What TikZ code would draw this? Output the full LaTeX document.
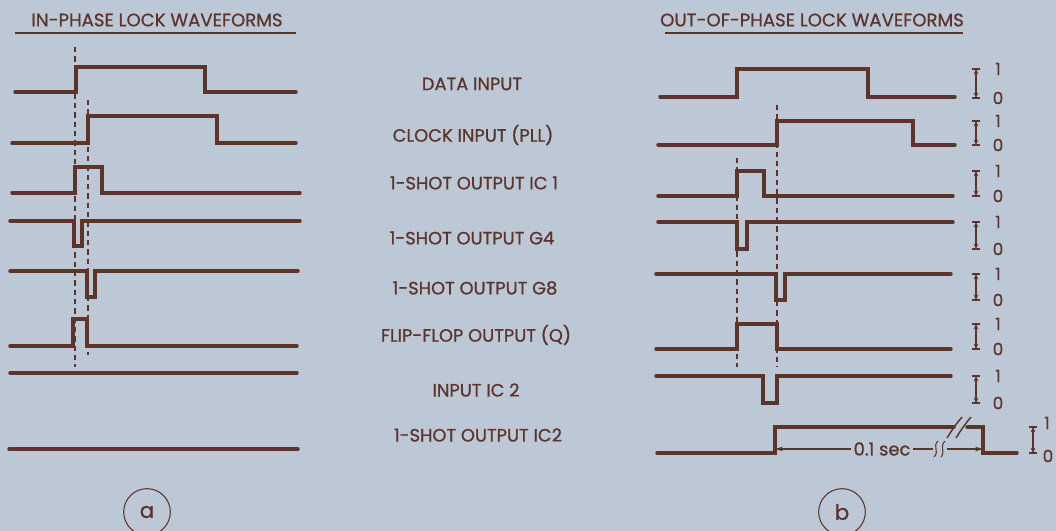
\documentclass[tikz,border=0pt]{standalone}
\usepackage{fontspec}
\setmainfont{Poppins}[FakeBold=0.8]
\usetikzlibrary{arrows.meta}
\definecolor{bg}{RGB}{188,200,214}
\definecolor{ink}{RGB}{92,52,42}
\begin{document}
\begin{tikzpicture}[x=0.75pt,y=-0.75pt,
  wave/.style={ink,line width=2.6pt,line join=miter,line cap=round},
  guide/.style={ink,line width=0.8pt,dash pattern=on 4pt off 3pt},
  lbl/.style={text=ink,font=\fontsize{13.4}{15}\selectfont,inner sep=0pt},
  ttl/.style={text=ink,font=\fontsize{13.6}{15}\selectfont,inner sep=0pt},
  rulebar/.style={ink,line width=1.5pt},
  span/.style={ink,line width=0.9pt,{Stealth[length=4pt,width=3.5pt]}-{Stealth[length=4pt,width=3.5pt]}},
  barline/.style={ink,line width=0.9pt},
  lvl/.style={text=ink,font=\fontsize{12.5}{14}\selectfont,inner sep=0pt},
  dimline/.style={ink,line width=0.8pt},
  tag/.style={circle,draw=ink,line width=0.8pt,minimum size=35pt,inner sep=0pt,text=ink,font=\fontsize{16}{18}\selectfont}]
\useasboundingbox (0,0) rectangle (1056,531);
\fill[bg] (0,0) rectangle (1056,531);

% titles
\node[ttl] (tA) at (157,20) {IN-PHASE LOCK WAVEFORMS};
\node[ttl] (tB) at (812,20) {OUT-OF-PHASE LOCK WAVEFORMS};
\draw[rulebar] (15,33) -- (296,33);
\draw[rulebar] (665,33) -- (963,33);

% centre labels
\node[lbl] (lData) at (472,84) {DATA INPUT};
\node[lbl] (lClock) at (473,135) {CLOCK INPUT (PLL)};
\node[lbl] (lIC1) at (474,183) {1-SHOT OUTPUT IC 1};
\node[lbl] (lG4) at (472,238) {1-SHOT OUTPUT G4};
\node[lbl] (lG8) at (475,288) {1-SHOT OUTPUT G8};
\node[lbl] (lQ) at (476,335) {FLIP-FLOP OUTPUT (Q)};
\node[lbl] (lIn2) at (476,390) {INPUT IC 2};
\node[lbl] (lOut2) at (478,435) {1-SHOT OUTPUT IC2};

% left guides
\draw[guide] (75,47) -- (75,367);
\draw[guide] (88,100) -- (88,355);
% left waveforms
\draw[wave] (15,92) -- (76,92) -- (76,67) -- (205,67) -- (205,92) -- (296,92);
\draw[wave] (12,143) -- (88,143) -- (88,116) -- (217,116) -- (217,143) -- (296,143);
\draw[wave] (12,193) -- (75,193) -- (75,167) -- (102,167) -- (102,193) -- (300,193);
\draw[wave] (10,221) -- (74,221) -- (74,246) -- (82,246) -- (82,221) -- (300,221);
\draw[wave] (10,271) -- (87,271) -- (87,297) -- (95,297) -- (95,271) -- (298,271);
\draw[wave] (10,346) -- (73,346) -- (73,319) -- (87,319) -- (87,346) -- (297,346);
\draw[wave] (10,373) -- (297,373);
\draw[wave] (9,449) -- (298,449);

% right guides
\draw[guide] (737,158) -- (737,367);
\draw[guide] (777,105) -- (777,367);
% right waveforms
\draw[wave] (660,97) -- (737,97) -- (737,69) -- (868,69) -- (868,97) -- (955,97);
\draw[wave] (658,145) -- (777,145) -- (777,121) -- (913,121) -- (913,145) -- (955,145);
\draw[wave] (658,196) -- (737,196) -- (737,171) -- (764,171) -- (764,196) -- (953,196);
\draw[wave] (658,222) -- (737,222) -- (737,249) -- (747,249) -- (747,222) -- (953,222);
\draw[wave] (656,274) -- (776,274) -- (776,300) -- (785,300) -- (785,274) -- (951,274);
\draw[wave] (656,349) -- (737,349) -- (737,324) -- (777,324) -- (777,349) -- (951,349);
\draw[wave] (656,376) -- (763,376) -- (763,403) -- (777,403) -- (777,376) -- (951,376);
\draw[wave] (657,453) -- (775,453) -- (775,427) -- (954,427);
\draw[wave] (967,427) -- (983,427) -- (983,453) -- (1017,453);
% break on the high level
\draw[dimline,line width=1.1pt] (947,438) .. controls (952,430) and (956,424) .. (962,417);
\draw[dimline,line width=1.1pt] (956,438) .. controls (961,430) and (965,424) .. (971,417);

% level markers
\foreach \n/\hi/\lo in {1/69/98,2/121/145,3/171/196,4/222/249,5/274/300,6/324/349,7/376/403}{
  \coordinate (mt\n) at (976,\hi);
  \coordinate (mb\n) at (976,\lo);
  \draw[span] (mt\n) -- (mb\n);
  \draw[barline] ([xshift=-3pt]mt\n) -- ([xshift=3pt]mt\n);
  \draw[barline] ([xshift=-3pt]mb\n) -- ([xshift=3pt]mb\n);
  \node[lvl] (one\n) at (998,\hi) {1};
  \node[lvl] (zero\n) at (998,\lo) {0};
}
\coordinate (mt8) at (1033,427);
\coordinate (mb8) at (1033,453);
\draw[span] (mt8) -- (mb8);
\draw[barline] ([xshift=-3pt]mt8) -- ([xshift=3pt]mt8);
\draw[barline] ([xshift=-3pt]mb8) -- ([xshift=3pt]mb8);
\node[lvl] (one8) at (1047,423) {1};
\node[lvl] (zero8) at (1048,456) {0};

% 0.1 sec dimension
\node[lbl,inner sep=2pt] (sec) at (882,449) {0.1 sec};
\coordinate (r8) at (775,449);
\coordinate (f8) at (983,449);
\coordinate (g1) at (933,449);
\coordinate (g2) at (947,449);
\draw[dimline,-{Stealth[length=6pt,width=3.5pt]}] (sec.west) -- (r8);
\draw[dimline] (sec.east) -- (g1);
\draw[dimline,-{Stealth[length=6pt,width=3.5pt]}] (g2) -- (f8);
\draw[dimline] (938,441) .. controls (932,447) and (940,451) .. (934,457);
\draw[dimline] (945,441) .. controls (939,447) and (946,451) .. (941,457);

% panel tags
\node[tag] (ca) at (147,512) {a};
\node[tag] (cb) at (842,512) {b};
\end{tikzpicture}
\end{document}
